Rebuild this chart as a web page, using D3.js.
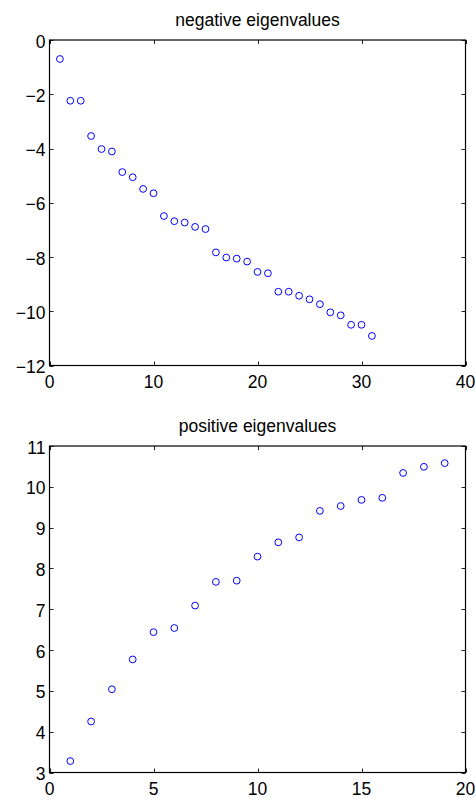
<!DOCTYPE html>
<html><head><meta charset="utf-8">
<script src="https://cdn.jsdelivr.net/npm/d3@7"></script>
<style>
html,body{margin:0;padding:0;background:#fff;}
svg{display:block;font-family:"Liberation Sans",Arial,Helvetica,sans-serif;}
</style></head>
<body>
<script>
// ---- data ----
const negTitle = "negative eigenvalues";
const posTitle = "positive eigenvalues";
const negValues = [-0.70,-2.24,-2.24,-3.54,-4.02,-4.11,-4.87,-5.06,-5.49,-5.65,
  -6.49,-6.68,-6.73,-6.89,-6.97,-7.83,-8.02,-8.06,-8.17,-8.55,-8.60,
  -9.28,-9.28,-9.43,-9.56,-9.74,-10.04,-10.15,-10.50,-10.50,-10.91];
const posValues = [3.28,4.25,5.04,5.77,6.44,6.54,7.09,7.67,7.70,
  8.29,8.64,8.76,9.41,9.53,9.68,9.73,10.34,10.49,10.58];
const negXTicks = [0,10,20,30,40];
const negYTicks = [0,-2,-4,-6,-8,-10,-12];
const posXTicks = [0,5,10,15,20];
const posYTicks = [3,4,5,6,7,8,9,10,11];

const W = 475, H = 798;
const svg = d3.select("body").append("svg").attr("width", W).attr("height", H);
const fmt = d => (d < 0 ? "\u2212" + Math.abs(d) : String(d));

function panel(opts) {
  const {values, title, xDomain, yDomain, xTicks, yTicks, left, right, top, bottom} = opts;
  const x = d3.scaleLinear().domain(xDomain).range([left, right]);
  const y = d3.scaleLinear().domain(yDomain).range([bottom, top]);
  const g = svg.append("g");
  const tl = 4;
  // ticks (inside, on all four sides)
  xTicks.forEach(t => {
    const px = Math.round(x(t)) + 0.5;
    g.append("line").attr("x1", px).attr("x2", px).attr("y1", bottom).attr("y2", bottom - tl).attr("stroke", "#222");
    g.append("line").attr("x1", px).attr("x2", px).attr("y1", top).attr("y2", top + tl).attr("stroke", "#222");
    g.append("text").attr("x", x(t)).attr("y", bottom + 22).attr("text-anchor", "middle")
      .attr("font-size", 17.5).attr("fill", "#000").text(fmt(t));
  });
  yTicks.forEach(t => {
    const py = Math.round(y(t)) + 0.5;
    g.append("line").attr("x1", left).attr("x2", left + tl).attr("y1", py).attr("y2", py).attr("stroke", "#222");
    g.append("line").attr("x1", right).attr("x2", right - tl).attr("y1", py).attr("y2", py).attr("stroke", "#222");
    g.append("text").attr("x", left - 4).attr("y", y(t) + 7.5).attr("text-anchor", "end")
      .attr("font-size", 17.5).attr("fill", "#000").text(fmt(t));
  });
  // box
  g.append("rect").attr("x", left).attr("y", top).attr("width", right - left).attr("height", bottom - top)
    .attr("fill", "none").attr("stroke", "#000").attr("stroke-width", 1.2);
  // markers
  g.selectAll("circle.m").data(values).enter().append("circle").attr("class", "m")
    .attr("cx", (d, i) => x(i + 1)).attr("cy", d => y(d)).attr("r", 3.4)
    .attr("fill", "none").attr("stroke", "#0000ff").attr("stroke-width", 1);
  // title
  g.append("text").attr("x", (left + right) / 2).attr("y", top - 14).attr("text-anchor", "middle")
    .attr("font-size", 17.5).attr("fill", "#000").text(title);
}

panel({values: negValues, title: negTitle, xDomain: [0, 40], yDomain: [-12, 0],
  xTicks: negXTicks, yTicks: negYTicks, left: 49.5, right: 465.5, top: 40, bottom: 365.5});
panel({values: posValues, title: posTitle, xDomain: [0, 20], yDomain: [3, 11],
  xTicks: posXTicks, yTicks: posYTicks, left: 49.5, right: 465.5, top: 446, bottom: 772.5});
</script>
</body></html>
